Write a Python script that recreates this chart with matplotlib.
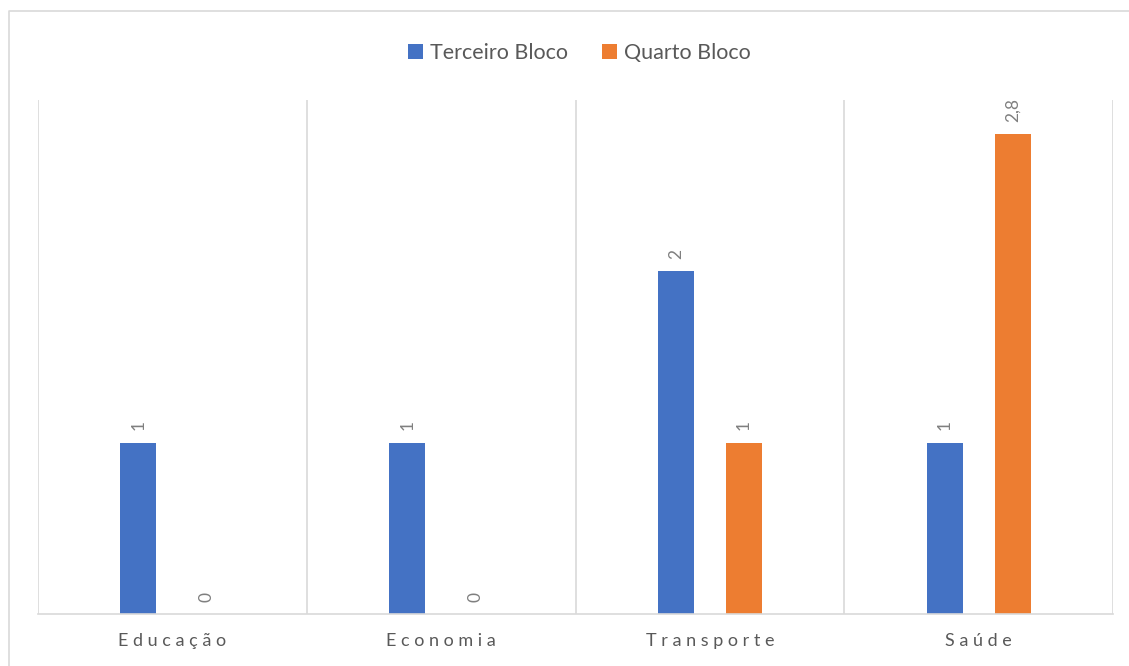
import matplotlib.pyplot as plt
import numpy as np
from matplotlib.lines import Line2D

categories = ['Educação', 'Economia', 'Transporte', 'Saúde']
terceiro = [1, 1, 2, 1]
quarto = [0, 0, 1, 2.8]
series_names = ['Terceiro Bloco', 'Quarto Bloco']

plt.rcParams['font.family'] = ['Lato', 'DejaVu Sans']

fig = plt.figure(figsize=(11.29, 6.66), dpi=100)
# outer chart border (only top and left edges fall inside the image)
fig.lines.append(Line2D([8.5 / 1129, 8.5 / 1129, 1.0], [0.0, 1 - 10.5 / 666, 1 - 10.5 / 666],
                        transform=fig.transFigure, color='#d9d9d9', linewidth=1.2))

ax = fig.add_axes([38 / 1129, 1 - 614 / 666, 1075 / 1129, 514 / 666])

x = np.arange(len(categories))
w = 0.134
off = 0.1265
b1 = ax.bar(x - off, terceiro, w, color='#4472c4', label=series_names[0])
b2 = ax.bar(x + off, quarto, w, color='#ed7d31', label=series_names[1])

for bars, vals in [(b1, terceiro), (b2, quarto)]:
    for b, v in zip(bars, vals):
        txt = f'{v:g}'.replace('.', ',')
        ax.annotate(txt, (b.get_x() + b.get_width() / 2, v), xytext=(0, 9),
                    textcoords='offset points', rotation=90, ha='center', va='bottom',
                    color='#7f7f7f', fontsize=12.5)

ax.set_xlim(-0.5, len(categories) - 0.5)
ax.set_ylim(0, 3)
ax.set_yticks([])
ax.set_xticks(x)
ax.set_xticklabels([' '.join(c) for c in categories], color='#595959', fontsize=13)
ax.tick_params(axis='x', length=0, pad=14)

for xv in np.arange(-0.5, len(categories), 1):
    ax.axvline(xv, color='#d9d9d9', linewidth=1.2, zorder=0)

for s in ['top', 'left', 'right']:
    ax.spines[s].set_visible(False)
ax.spines['bottom'].set_color('#d9d9d9')
ax.spines['bottom'].set_linewidth(1.2)

fig.legend(loc='upper center', bbox_to_anchor=(0.513, 1 - 24 / 666), ncol=2, frameon=False,
           fontsize=15.5, handlelength=0.7, handleheight=0.7, handletextpad=0.3,
           columnspacing=1.6, labelcolor='#595959')

plt.savefig('out.png', dpi=100)
